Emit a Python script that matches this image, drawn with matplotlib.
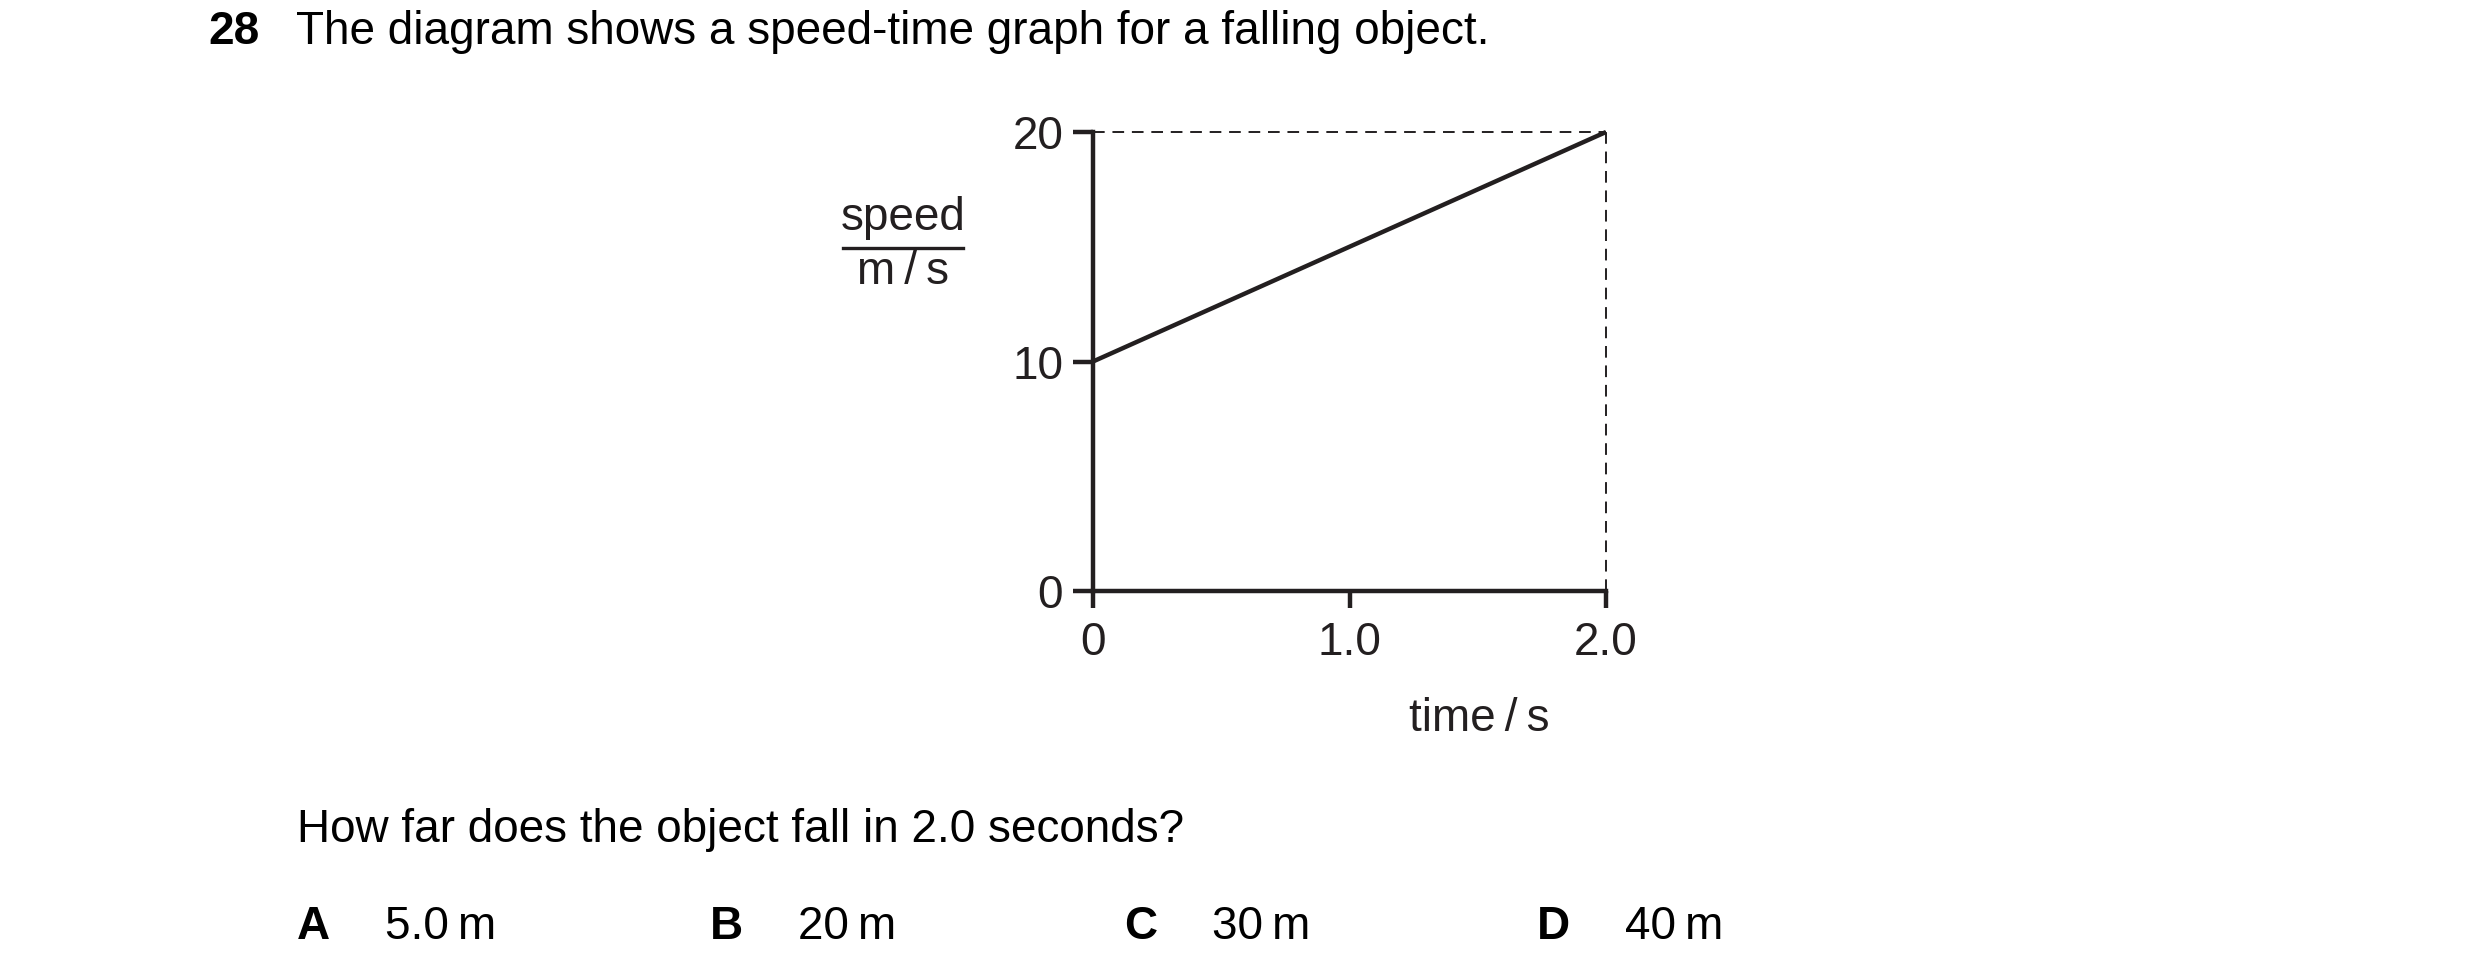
import numpy as np
import matplotlib
matplotlib.use("Agg")
import matplotlib.pyplot as plt

plt.rcParams['font.family'] = ['Liberation Sans', 'DejaVu Sans']

# data
time_s = [0.0, 2.0]
speed_ms = [10, 20]
x_ticks = [0, 1.0, 2.0]
x_tick_labels = ["0", "1.0", "2.0"]
y_ticks = [0, 10, 20]
y_tick_labels = ["0", "10", "20"]
option_letters = ["A", "B", "C", "D"]
option_answers = ["5.0\u2009m", "20\u2009m", "30\u2009m", "40\u2009m"]

W, H = 2480, 980
FS = 33
INK = "#231f20"

fig = plt.figure(figsize=(W / 100, H / 100), dpi=100)


def px(x, y):
    return x / W, 1 - y / H


# axes box in pixels: left 1093, right 1606, top 132, bottom 591
ax = fig.add_axes([1093 / W, 1 - 591 / H, (1606 - 1093) / W, (591 - 132) / H])
ax.set_xlim(0, 2.0)
ax.set_ylim(0, 20)

ax.plot(time_s, speed_ms, color=INK, lw=3.2, clip_on=False, solid_capstyle='butt')
ax.plot([0, time_s[-1]], [speed_ms[-1], speed_ms[-1]], color=INK, lw=1.4,
        dashes=(6, 4), clip_on=False)
ax.plot([time_s[-1], time_s[-1]], [0, speed_ms[-1]], color=INK, lw=1.4,
        dashes=(6, 4), clip_on=False)

for s in ["top", "right"]:
    ax.spines[s].set_visible(False)
for s in ["left", "bottom"]:
    ax.spines[s].set_linewidth(3.2)
    ax.spines[s].set_color(INK)

ax.set_xticks(x_ticks)
ax.set_xticklabels(x_tick_labels)
ax.set_yticks(y_ticks)
ax.set_yticklabels(y_tick_labels)
ax.tick_params(axis='y', direction='out', length=14.5, width=3.2, color=INK,
               labelsize=FS, labelcolor=INK, pad=7)
ax.tick_params(axis='x', direction='out', length=12.5, width=3.2, color=INK,
               labelsize=FS, labelcolor=INK, pad=9)
ax.patch.set_visible(False)

# axis labels
fig.text(*px(903, 230), "speed", fontsize=FS, color=INK, ha='center', va='baseline')
fig.text(*px(903, 284), "m\u2009/\u2009s", fontsize=FS, color=INK, ha='center', va='baseline')
fig.add_artist(plt.Line2D([843 / W, 963 / W], [1 - 248 / H, 1 - 248 / H],
                          color=INK, lw=2.4))
fig.text(*px(1479, 731), "time\u2009/\u2009s", fontsize=FS, color=INK, ha='center', va='baseline')

# question text
fig.text(*px(208, 44), "28", fontsize=FS, fontweight='bold', va='baseline')
fig.text(*px(296, 44), "The diagram shows a speed-time graph for a falling object.",
         fontsize=FS, va='baseline')
fig.text(*px(297, 842), "How far does the object fall in 2.0 seconds?",
         fontsize=FS, va='baseline')

letter_x = [297, 710, 1124, 1537]
for i in range(len(option_letters)):
    fig.text(*px(letter_x[i], 939), option_letters[i], fontsize=FS,
             fontweight='bold', va='baseline')
    fig.text(*px(letter_x[i] + 88, 939), option_answers[i], fontsize=FS, va='baseline')

fig.savefig("out.png", dpi=100, facecolor="white")
